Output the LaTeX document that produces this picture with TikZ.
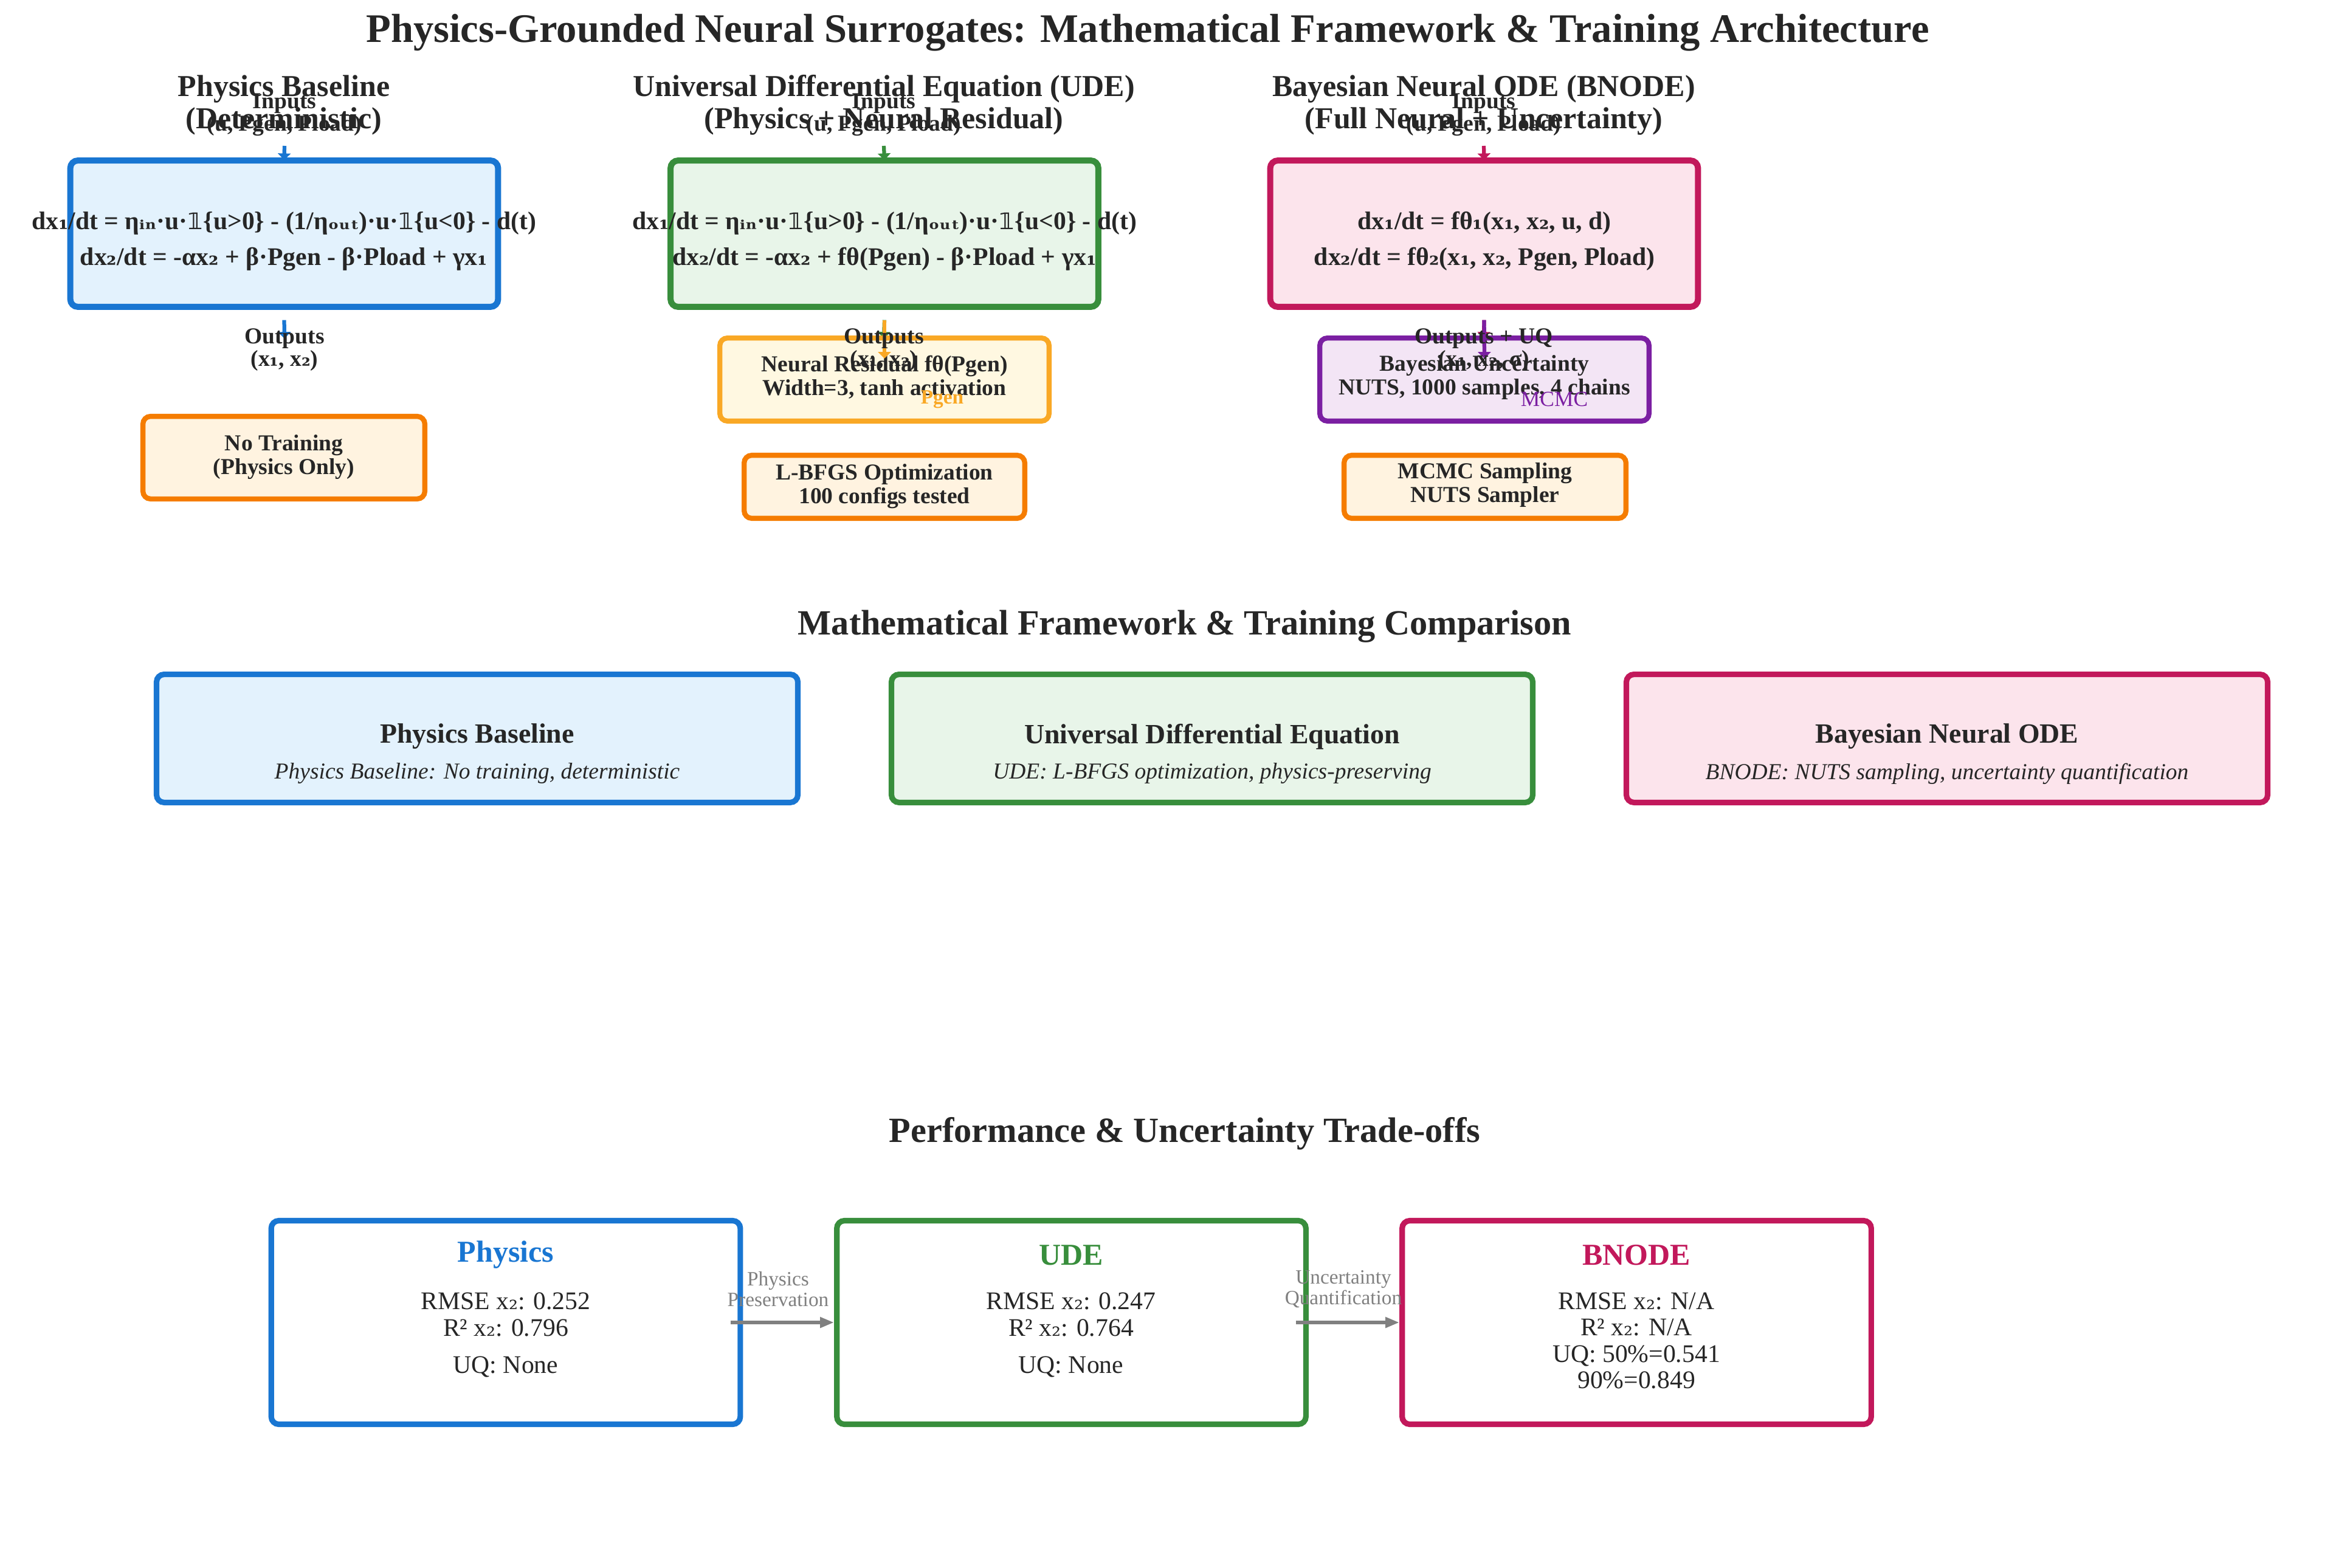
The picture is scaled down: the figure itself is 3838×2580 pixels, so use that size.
\documentclass[tikz,border=0pt]{standalone}
\usepackage{fontspec}
\setmainfont{Liberation Serif}
\newfontfamily\dvs{DejaVu Serif}[Scale=0.9]
\newfontfamily\dvsans{DejaVu Sans}[Scale=0.9]
\usetikzlibrary{arrows.meta}
\definecolor{tdark}{HTML}{262626}
\definecolor{cblue}{HTML}{1976D2}
\definecolor{fblue}{HTML}{E3F2FD}
\definecolor{cgreen}{HTML}{388E3C}
\definecolor{fgreen}{HTML}{E8F5E9}
\definecolor{ccrim}{HTML}{C2185B}
\definecolor{fcrim}{HTML}{FCE4EC}
\definecolor{corange}{HTML}{F57C00}
\definecolor{forange}{HTML}{FFF3E0}
\definecolor{camber}{HTML}{F9A825}
\definecolor{famber}{HTML}{FFF8E1}
\definecolor{cpurple}{HTML}{7B1FA2}
\definecolor{fpurple}{HTML}{F3E5F5}
\definecolor{cgray}{HTML}{808080}
\newcommand\xone{x{\dvs ₁}}
\newcommand\xtwo{x{\dvs ₂}}
\newcommand\indic{{\dvsans 𝟙}}
\newcommand\etain{η{\dvs ᵢₙ}}
\newcommand\etaout{η{\dvs ₒᵤₜ}}
\newcommand\thone{θ{\dvs ₁}}
\newcommand\thtwo{θ{\dvs ₂}}
\begin{document}
\begin{tikzpicture}[x=0.24pt,y=-0.24pt,
  T/.style={text=tdark, inner sep=0pt, align=center},
  ttl/.style={font=\fontsize{16}{19}\selectfont\bfseries},
  sec/.style={font=\fontsize{14}{16}\selectfont\bfseries},
  hd/.style={font=\fontsize{12}{12.7}\selectfont\bfseries},
  lab/.style={font=\fontsize{9}{8.9}\selectfont\bfseries},
  eq/.style={font=\fontsize{10}{14}\selectfont\bfseries},
  small/.style={font=\fontsize{9}{9.4}\selectfont\bfseries},
  mt/.style={font=\fontsize{11}{13}\selectfont\bfseries},
  mst/.style={font=\fontsize{9}{11}\selectfont\itshape},
  bt/.style={font=\fontsize{12}{14}\selectfont\bfseries},
  body/.style={font=\fontsize{10}{10.4}\selectfont},
  glab/.style={font=\fontsize{8}{8.2}\selectfont, text=cgray},
  box/.style 2 args={draw=#1, fill=#2, rounded corners=3pt, line width=2.4pt, inner sep=0pt},
  sbox/.style 2 args={draw=#1, fill=#2, rounded corners=3pt, line width=2pt, inner sep=0pt},
  carrow/.style={draw=#1, line width=1.5pt, -{Triangle[width=5pt,length=2.6pt]}},
  garrow/.style={draw=cgray, line width=1.4pt, -{Triangle[width=4pt,length=5.5pt]}}
]
\useasboundingbox (0,0) rectangle (3838,2580);

% title
\node[T, ttl] (title) at (1888,54) {Physics-Grounded Neural Surrogates: Mathematical Framework \& Training Architecture};

% main boxes
\node[box={cblue}{fblue}, minimum width=168.9pt, minimum height=57.8pt] (pbox) at (467.5,384.5) {};
\node[box={cgreen}{fgreen}, minimum width=168.9pt, minimum height=57.8pt] (ubox) at (1455,384.5) {};
\node[box={ccrim}{fcrim}, minimum width=168.9pt, minimum height=57.8pt] (bbox) at (2441.5,384.5) {};

% headings
\node[T, hd] (hp) at (467,173) {Physics Baseline\\(Deterministic)};
\node[T, hd] (hu) at (1454,173) {Universal Differential Equation (UDE)\\(Physics + Neural Residual)};
\node[T, hd] (hb) at (2441,173) {Bayesian Neural ODE (BNODE)\\(Full Neural + Uncertainty)};

% inputs
\node[T, lab] (ip) at (468,189) {Inputs\\(u, Pgen, Pload)};
\node[T, lab] (iu) at (1454,189) {Inputs\\(u, Pgen, Pload)};
\node[T, lab] (ib) at (2441,189) {Inputs\\(u, Pgen, Pload)};

\coordinate (pin) at (468,240);
\coordinate (uin) at (1454,240);
\coordinate (bin) at (2441,240);
\draw[carrow=cblue] (pin) -- ([yshift=-1pt]pbox.north);
\draw[carrow=cgreen] (uin) -- ([yshift=-1pt]ubox.north);
\draw[carrow=ccrim] (bin) -- ([yshift=-1pt]bbox.north);

% equations
\node[T, eq] (pe) at (467,397) {d\xone{}/dt = \etain{}·u·\indic{}\{u>0\} - (1/\etaout{})·u·\indic{}\{u<0\} - d(t)\\
d\xtwo{}/dt = -α\xtwo{} + β·Pgen - β·Pload + γ\xone{}};
\node[T, eq] (ue) at (1455,397) {d\xone{}/dt = \etain{}·u·\indic{}\{u>0\} - (1/\etaout{})·u·\indic{}\{u<0\} - d(t)\\
d\xtwo{}/dt = -α\xtwo{} + fθ(Pgen) - β·Pload + γ\xone{}};
\node[T, eq] (be) at (2442,397) {d\xone{}/dt = f\thone{}(\xone{}, \xtwo{}, u, d)\\
d\xtwo{}/dt = f\thtwo{}(\xone{}, \xtwo{}, Pgen, Pload)};

% output arrows
\coordinate (pout) at (468,557);
\coordinate (uout) at (1454,557);
\coordinate (bout) at (2441,557);
\draw[carrow=cblue] ([yshift=-4pt]pbox.south) -- (pout);
\draw[carrow=cgreen] ([yshift=-4pt]ubox.south) -- (uout);
\draw[carrow=ccrim] ([yshift=-4pt]bbox.south) -- (bout);

% training / residual boxes
\node[sbox={corange}{forange}, minimum width=111.3pt, minimum height=32.6pt] (ntr) at (467,753) {};
\node[T, small] (ntrt) at (467,752) {No Training\\(Physics Only)};

\node[sbox={camber}{famber}, minimum width=130pt, minimum height=32.8pt] (nres) at (1455,624.5) {};
\node[T, small] (nrest) at (1455,621) {Neural Residual fθ(Pgen)\\Width=3, tanh activation};
\coordinate (nresin) at (1455,590);
\draw[carrow=camber] ([yshift=-4pt]ubox.south) -- (nresin);

\node[sbox={cpurple}{fpurple}, minimum width=130pt, minimum height=32.8pt] (buq) at (2442,624.5) {};
\node[T, small] (buqt) at (2442,621) {Bayesian Uncertainty\\NUTS, 1000 samples, 4 chains};
\coordinate (buqin) at (2442,590);
\draw[carrow=cpurple] ([yshift=-4pt]bbox.south) -- (buqin);

\node[sbox={corange}{forange}, minimum width=110.8pt, minimum height=24.9pt] (lbf) at (1455,801) {};
\node[T, small] (lbft) at (1455,800) {L-BFGS Optimization\\100 configs tested};
\node[sbox={corange}{forange}, minimum width=111.3pt, minimum height=24.9pt] (mcm) at (2443,801) {};
\node[T, small] (mcmt) at (2443,798) {MCMC Sampling\\NUTS Sampler};

% outputs labels
\node[T, lab] (op) at (468,576) {Outputs\\(\xone{}, \xtwo{})};
\node[T, lab] (ou) at (1454,576) {Outputs\\(\xone{}, \xtwo{})};
\node[T, lab] (ob) at (2441,576) {Outputs + UQ\\(\xone{}, \xtwo{}, σ)};

\node[T, font=\fontsize{8}{9}\selectfont\bfseries, text=camber] (pgl) at (1550,657) {Pgen};
\node[T, font=\fontsize{8.5}{9}\selectfont, text=cpurple] (mcl) at (2557,657) {MCMC};

% section 2
\node[T, sec] (s2) at (1949,1031) {Mathematical Framework \& Training Comparison};
\node[box={cblue}{fblue}, line width=2.2pt, minimum width=253.2pt, minimum height=50.6pt] (m1) at (785,1215) {};
\node[box={cgreen}{fgreen}, line width=2.2pt, minimum width=253.2pt, minimum height=50.6pt] (m2) at (1994,1215) {};
\node[box={ccrim}{fcrim}, line width=2.2pt, minimum width=253.2pt, minimum height=50.6pt] (m3) at (3203,1215) {};
\node[T, mt] (m1t) at (785,1212) {Physics Baseline};
\node[T, mst] (m1s) at (785,1273) {Physics Baseline: No training, deterministic};
\node[T, mt] (m2t) at (1994,1212) {Universal Differential Equation};
\node[T, mst] (m2s) at (1994,1273) {UDE: L-BFGS optimization, physics-preserving};
\node[T, mt] (m3t) at (3203,1212) {Bayesian Neural ODE};
\node[T, mst] (m3s) at (3203,1273) {BNODE: NUTS sampling, uncertainty quantification};

% section 3
\node[T, sec] (s3) at (1949,1865) {Performance \& Uncertainty Trade-offs};
\node[box={cblue}{white}, line width=2.2pt, minimum width=185.2pt, minimum height=80.4pt] (b1) at (832,2176) {};
\node[box={cgreen}{white}, line width=2.2pt, minimum width=185.2pt, minimum height=80.4pt] (b2) at (1762.5,2176) {};
\node[box={ccrim}{white}, line width=2.2pt, minimum width=185.2pt, minimum height=80.4pt] (b3) at (2692.5,2176) {};

\node[T, bt, text=cblue] (b1t) at (832,2065) {Physics};
\node[T, body] (b1m) at (832,2163) {RMSE \xtwo{}: 0.252\\R² \xtwo{}: 0.796};
\node[T, body] (b1u) at (832,2249) {UQ: None};

\node[T, bt, text=cgreen] (b2t) at (1762,2065) {UDE};
\node[T, body] (b2m) at (1762,2163) {RMSE \xtwo{}: 0.247\\R² \xtwo{}: 0.764};
\node[T, body] (b2u) at (1762,2249) {UQ: None};

\node[T, bt, text=ccrim] (b3t) at (2692,2065) {BNODE};
\node[T, body] (b3m) at (2692,2206) {RMSE \xtwo{}: N/A\\R² \xtwo{}: N/A\\UQ: 50\%=0.541\\90\%=0.849};

\draw[garrow] ([xshift=-5pt]b1.east) -- (b2.west);
\draw[garrow] ([xshift=-5pt]b2.east) -- (b3.west);
\node[T, glab] (g1) at (1280,2121) {Physics\\Preservation};
\node[T, glab] (g2) at (2210,2121) {Uncertainty\\Quantification};
\end{tikzpicture}
\end{document}
